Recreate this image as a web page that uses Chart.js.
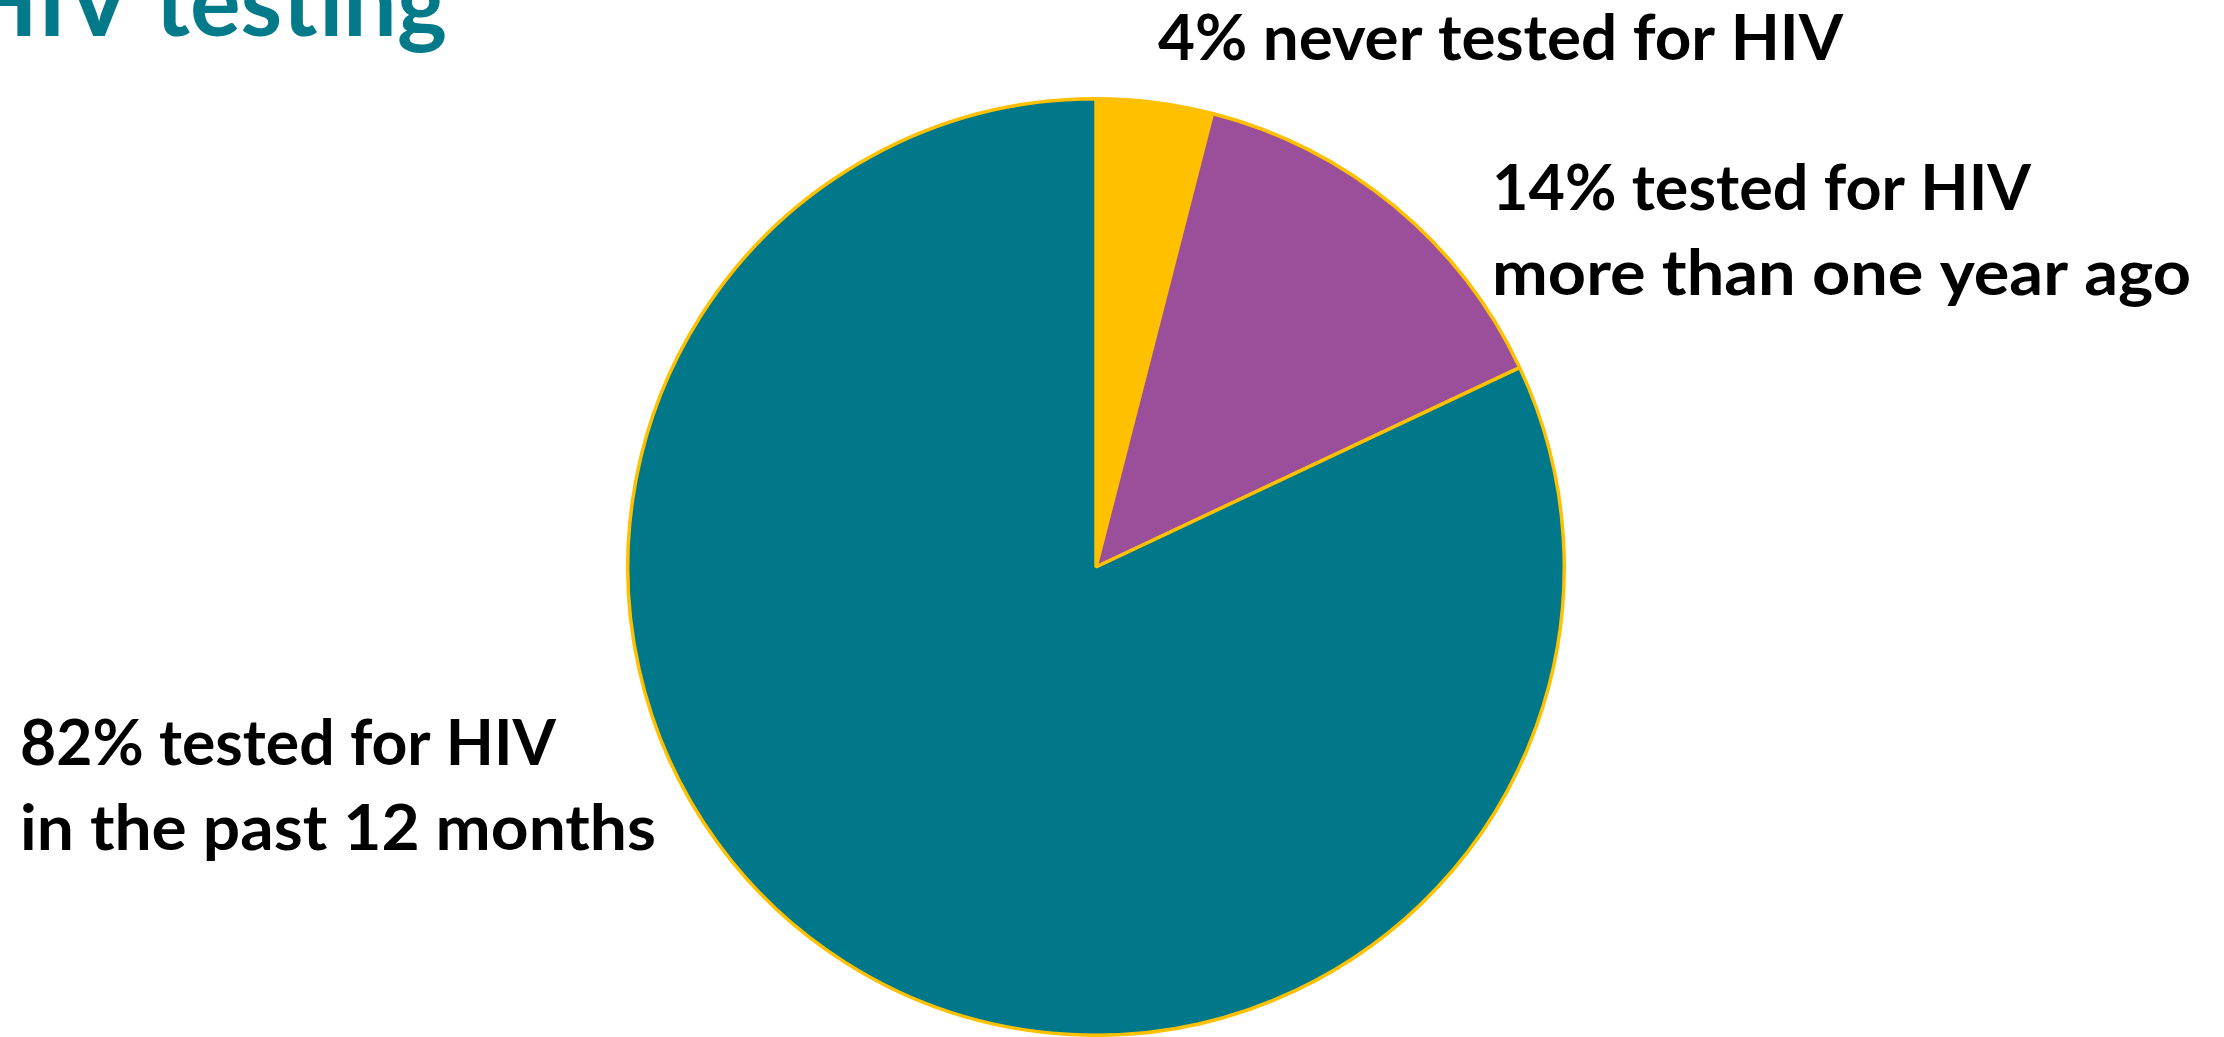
<!DOCTYPE html>
<html>
<head>
<meta charset="utf-8">
<style>
  html, body { margin: 0; padding: 0; background: #ffffff; overflow: hidden; }
  #c { display: block; }
</style>
<script src="https://cdn.jsdelivr.net/npm/chart.js@4"></script>
</head>
<body>
<canvas id="c" width="2224" height="1037"></canvas>
<script>
// ---- data ----
const categories = ["never tested for HIV", "tested for HIV more than one year ago", "tested for HIV in the past 12 months"];
const values = [4, 14, 82];
const labelLines = [
  ["4% never tested for HIV"],
  ["14% tested for HIV", "more than one year ago"],
  ["82% tested for HIV", "in the past 12 months"]
];
const titleText = "HIV testing";
const sliceColors = ["#FFC000", "#9B4F9B", "#00788A"];

// ---- layout of text labels (left x, baseline y, target width) ----
const labelBoxes = [
  [[1158, 60, 685]],
  [[1492, 210, 539], [1492, 295, 699]],
  [[20, 765, 536], [20, 850, 636]]
];
const FONT = "Lato, 'Open Sans', 'DejaVu Sans', sans-serif";
const LABEL_SIZE = 63;   // gives ~45px cap height
const TITLE_SIZE = 96;

function drawFitted(ctx, text, x, y, width, size, align) {
  ctx.font = "bold " + size + "px " + FONT;
  const w = ctx.measureText(text).width;
  const sx = width / w;
  ctx.save();
  ctx.translate(x, y);
  ctx.scale(sx, 1);
  ctx.textAlign = align || "left";
  ctx.fillText(text, 0, 0);
  ctx.restore();
}

const textPlugin = {
  id: 'textPlugin',
  afterDraw(chart) {
    const ctx = chart.ctx;
    ctx.save();
    ctx.textBaseline = "alphabetic";
    ctx.fillStyle = "#000000";
    labelLines.forEach((lines, i) => {
      lines.forEach((line, j) => {
        const [x, y, w] = labelBoxes[i][j];
        drawFitted(ctx, line, x, y, w, LABEL_SIZE, "left");
      });
    });
    // title (clipped at top-left): "testing" spans ~292px, right edge at 447
    ctx.font = "bold " + TITLE_SIZE + "px " + FONT;
    const tw = ctx.measureText("testing").width;
    const full = ctx.measureText(titleText).width;
    const sx = 292 / tw;
    ctx.fillStyle = "#037A8A";
    ctx.save();
    ctx.translate(447, 36);
    ctx.scale(sx, 1);
    ctx.textAlign = "right";
    ctx.fillText(titleText, 0, 0);
    ctx.restore();
    ctx.restore();
  }
};

new Chart(document.getElementById('c'), {
  type: 'pie',
  data: {
    labels: categories,
    datasets: [{
      data: values,
      backgroundColor: sliceColors,
      borderColor: "#FFC000",
      borderWidth: 3.5,
      borderAlign: 'center'
    }]
  },
  options: {
    responsive: false,
    animation: false,
    layout: { padding: { left: 0, right: 32, top: 97, bottom: 0 } },
    plugins: {
      legend: { display: false },
      tooltip: { enabled: false },
      title: { display: false }
    }
  },
  plugins: [textPlugin]
});
</script>
</body>
</html>
